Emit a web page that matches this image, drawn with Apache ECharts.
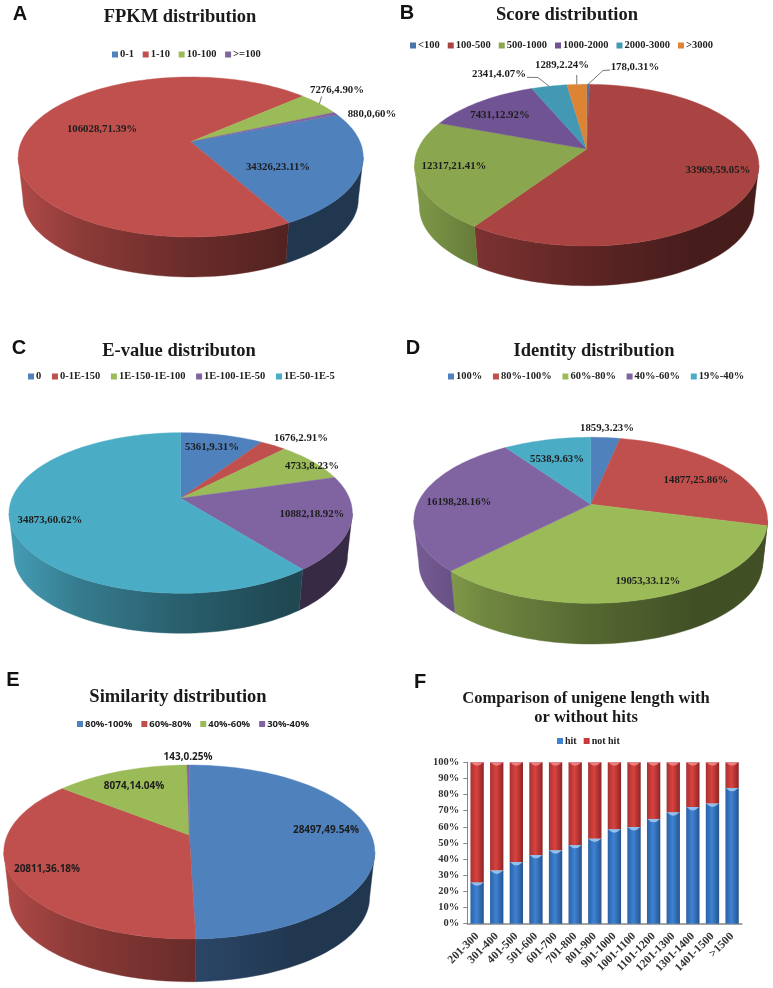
<!DOCTYPE html>
<html><head><meta charset="utf-8">
<style>html,body{margin:0;padding:0;background:#fff}#c{width:773px;height:988px}</style>
<script src="https://cdn.jsdelivr.net/npm/echarts@6/dist/echarts.min.js"></script>
</head><body><div id="c"></div>
<script>
// ---------- data ----------
const fpkmCats = ['0-1','1-10','10-100','>=100'];
const fpkmVals = [34326,106028,7276,880];
const fpkmPct  = ['23.11%','71.39%','4.90%','0,60%'];
const scoreCats = ['<100','100-500','500-1000','1000-2000','2000-3000','>3000'];
const scoreVals = [178,33969,12317,7431,2341,1289];
const scorePct  = ['0.31%','59.05%','21.41%','12.92%','4.07%','2.24%'];
const evalueCats = ['0','0-1E-150','1E-150-1E-100','1E-100-1E-50','1E-50-1E-5'];
const evalueVals = [5361,1676,4733,10882,34873];
const evaluePct  = ['9.31%','2.91%','8.23%','18.92%','60.62%'];
const identityCats = ['100%','80%-100%','60%-80%','40%-60%','19%-40%'];
const identityVals = [1859,14877,19053,16198,5538];
const identityPct  = ['3.23%','25.86%','33.12%','28.16%','9.63%'];
const similarityCats = ['80%-100%','60%-80%','40%-60%','30%-40%'];
const similarityVals = [28497,20811,8074,143];
const similarityPct  = ['49.54%','36.18%','14.04%','0.25%'];
const lengthCats = ['201-300','301-400','401-500','501-600','601-700','701-800','801-900','901-1000','1001-1100','1101-1200','1201-1300','1301-1400','1401-1500','>1500'];
const hitVals    = [25.6,32.9,38.2,42.6,45.5,48.8,52.7,58.5,59.9,64.9,69,72.3,74.4,84.1];
const notHitVals = [74.4,67.1,61.8,57.4,54.5,51.2,47.3,41.5,40.1,35.1,31,27.7,25.6,15.9];

// ---------- layout and style ----------
const SERIF = '"Liberation Serif","Times New Roman",serif';
const SANS = '"Open Sans","Noto Sans",sans-serif';
const office = ['#4f81bd','#c0504d','#9bbb59','#8064a2','#4bacc6','#f79646'];
const darker = ['#4a74aa','#a94442','#8aa64e','#6f5392','#4399b3','#dc8433'];
const panels = [
 {letter:'A',lx:20,ly:14,title:'FPKM distribution',tx:180,ty:17,cats:fpkmCats,vals:fpkmVals,pct:fpkmPct,colors:office,font:SERIF,
  apexX:190.7,apexY:141.7,left:17,right:362,top:77,bottom:237,low:277,start:68,
  legend:{x:112,y:55,gap:8.7},
  labels:[[278,167],[102,129],[337,90],[372,114]],
  leaders:{2:[[321.7,96.5]]}},
 {letter:'B',lx:407,ly:13,title:'Score distribution',tx:567,ty:15,cats:scoreCats,vals:scoreVals,pct:scorePct,colors:darker,font:SERIF,
  apexX:586.7,apexY:149,left:415,right:759.3,top:84.3,bottom:246,low:285.7,start:0,
  legend:{x:410,y:46,gap:8},
  labels:[[635,67.7],[718,170],[454,166],[500,115],[499,74.7],[562,65.7]],
  leaders:{0:[[610,70],[603,70.5]],4:[[527,77.3],[538,77.5]],5:[[576.7,75]]}},
 {letter:'C',lx:19,ly:348,title:'E-value distributon',tx:179,ty:351,cats:evalueCats,vals:evalueVals,pct:evaluePct,colors:office,font:SERIF,
  apexX:180.7,apexY:498.3,left:9,right:352.3,top:432.7,bottom:593.3,low:633.3,start:0,
  legend:{x:28,y:377,gap:10.7},
  labels:[[212,447.7],[301,438],[312,466],[312,514],[50,520]],leaders:{}},
 {letter:'D',lx:413,ly:348,title:'Identity distribution',tx:594,ty:351.7,cats:identityCats,vals:identityVals,pct:identityPct,colors:office,font:SERIF,
  apexX:590.7,apexY:504.3,left:414,right:767.7,top:437.3,bottom:603.3,low:644,start:0,
  legend:{x:448,y:377,gap:10.7},
  labels:[[607,428],[696,480],[648,581],[459,502],[557,459]],leaders:{}},
 {letter:'E',lx:13,ly:680,title:'Similarity distribution',tx:178,ty:697,cats:similarityCats,vals:similarityVals,pct:similarityPct,colors:office,font:SANS,
  apexX:189.3,apexY:835,left:4.3,right:375.3,top:765,bottom:939,low:981.7,start:0,
  legend:{x:77,y:725,gap:9},
  labels:[[326,830],[47,869],[134,786],[188,757]],leaders:{}}
];
const rimScale = 0.972;
const wallStops = [[0,.92],[.2,.72],[.5,.55],[.8,.42],[1,.42]];

function shade(hex,f){
  const n=parseInt(hex.slice(1),16);
  const c=[n>>16&255,n>>8&255,n&255].map(v=>Math.round(v*f));
  return 'rgb('+c.join(',')+')';
}
// perspective projection of the unit disc; angle is clockwise from 12 o'clock
function makeProjector(p){
  const ecy=(p.top+p.bottom)/2, rx=(p.right-p.left)/2, ry=(p.bottom-p.top)/2;
  const u=p.apexY-p.top, v=p.bottom-p.apexY, k=(v-u)/(v+u);
  const b=u*(1+k), a=rx*Math.sqrt(1-k*k);
  const ecx=(p.left+p.right)/2;
  const lowOff=p.low-ecy-ry*rimScale;
  const rim=deg=>{
    const t=deg*Math.PI/180, X=Math.sin(t), Y=-Math.cos(t), w=1-k*Y;
    return [p.apexX+a*X/w, p.apexY+b*Y/w];
  };
  const lower=pt=>[ecx+(pt[0]-ecx)*rimScale, ecy+lowOff+(pt[1]-ecy)*rimScale];
  const vis0=Math.acos(-k)*180/Math.PI;
  return {rim,lower,vis0,vis1:360-vis0};
}
function sampleArc(proj,from,to){
  const n=Math.max(2,Math.ceil((to-from)/2)), pts=[];
  for(let j=0;j<=n;j++) pts.push(proj.rim(from+(to-from)*j/n));
  return pts;
}
function sliceSeries(p,i){
  const total=p.vals.reduce((s,v)=>s+v,0);
  const before=p.vals.slice(0,i).reduce((s,v)=>s+v,0);
  const proj=makeProjector(p), color=p.colors[i];
  const x0=p.left, x1=p.right;
  return {
    type:'custom',name:p.cats[i],coordinateSystem:'none',silent:true,animation:false,
    data:[[p.vals[i]]],
    renderItem:(params,api)=>{
      const v=api.value(0);
      const a0=p.start+before/total*360, sweep=v/total*360, a1=a0+sweep;
      const kids=[];
      const wallFill=new echarts.graphic.LinearGradient(x0,0,x1,0,
        wallStops.map(s=>({offset:s[0],color:shade(color,s[1])})),true);
      [-360,0,360].forEach(m=>{
        const lo=Math.max(a0,proj.vis0+m), hi=Math.min(a1,proj.vis1+m);
        if(lo<hi){
          const edge=sampleArc(proj,lo,hi);
          kids.push({type:'polygon',z2:1,shape:{points:edge.concat(edge.map(proj.lower).reverse())},
            style:{fill:wallFill,stroke:wallFill,lineWidth:.4}});
        }
      });
      kids.push({type:'polygon',z2:5,shape:{points:[[p.apexX,p.apexY]].concat(sampleArc(proj,a0,a1))},
        style:{fill:color,stroke:color,lineWidth:.4}});
      const lab=p.labels[i];
      kids.push({type:'text',z2:20,style:{x:lab[0],y:lab[1],text:p.vals[i]+','+p.pct[i],
        font:'bold '+(p.font===SANS?10:10.8)+'px '+p.font,fill:'#1c1c1c',align:'center',verticalAlign:'middle'}});
      if(p.leaders[i]){
        const end=proj.rim(a0+sweep/2);
        kids.push({type:'polyline',z2:15,shape:{points:p.leaders[i].concat([end])},
          style:{fill:null,stroke:'#555',lineWidth:.8}});
      }
      return {type:'group',children:kids};
    }
  };
}
const series=[], titles=[], legends=[];
const letterStyle={fontFamily:'"Liberation Sans",Arial,sans-serif',fontWeight:'bold',fontSize:20,color:'#111'};
panels.forEach(p=>{
  p.vals.forEach((_,i)=>series.push(sliceSeries(p,i)));
  titles.push({text:p.letter,left:p.lx,top:p.ly,padding:0,textAlign:'center',textVerticalAlign:'middle',textStyle:letterStyle});
  titles.push({text:p.title,left:p.tx,top:p.ty,padding:0,textAlign:'center',textVerticalAlign:'middle',
    textStyle:{fontFamily:SERIF,fontWeight:'bold',fontSize:18.5,color:'#1a1a1a'}});
  legends.push({left:p.legend.x,top:p.legend.y-6,itemWidth:6,itemHeight:6,itemGap:p.legend.gap,icon:'rect',selectedMode:false,
    padding:0,orient:'horizontal',
    textStyle:{fontFamily:p.font,fontWeight:'bold',fontSize:p.font===SANS?9.5:10.5,color:'#222',padding:[0,0,0,-3]},
    data:p.cats.map((c,i)=>({name:c,itemStyle:{color:p.colors[i]}}))});
});
// panel F
titles.push({text:'F',left:420,top:682,padding:0,textAlign:'center',textVerticalAlign:'middle',textStyle:letterStyle});
titles.push({text:'Comparison of unigene length with\nor without hits',left:586,top:689,padding:0,textAlign:'center',
  textStyle:{fontFamily:SERIF,fontWeight:'bold',fontSize:16.5,lineHeight:19,color:'#1a1a1a'}});
legends.push({left:557,top:736,itemWidth:6,itemHeight:6,itemGap:7,icon:'rect',selectedMode:false,padding:0,
  textStyle:{fontFamily:SERIF,fontWeight:'bold',fontSize:10,color:'#222',padding:[0,0,0,-3]},
  data:[{name:'hit',itemStyle:{color:'#3f83d0'}},{name:'not hit',itemStyle:{color:'#c93a3a'}}]});
const barGrad=(a,b,c)=>new echarts.graphic.LinearGradient(0,0,1,0,[{offset:0,color:a},{offset:.45,color:b},{offset:1,color:c}]);
const crescent='path://M0 0 L100 0 Q50 100 0 0 Z';
const capSeries=(name,vals,color)=>({type:'scatter',name,data:vals,symbol:crescent,symbolSize:[12.5,3.4],symbolOffset:[0,1.7],
  itemStyle:{color},silent:true,animation:false,clip:false,z:4});
series.push(
 {type:'bar',name:'hit',stack:'s',data:hitVals,barWidth:'68%',animation:false,silent:true,
  itemStyle:{color:barGrad('#2a62a6','#3f82d2','#245490')}},
 {type:'bar',name:'not hit',stack:'s',data:notHitVals,barWidth:'68%',animation:false,silent:true,
  itemStyle:{color:barGrad('#a83232','#d9423f','#8c2626')}},
 capSeries('hit top',hitVals,'#a9cff2'),
 capSeries('not hit top',hitVals.map((v,i)=>v+notHitVals[i]),'#f29090')
);
const axisText={fontFamily:SERIF,fontWeight:'bold',color:'#333'};
const chart=echarts.init(document.getElementById('c'),null,{renderer:'canvas'});
chart.setOption({
  backgroundColor:'#fff',animation:false,title:titles,legend:legends,tooltip:{show:false},
  grid:{left:467.3,top:762.3,width:274.6,height:161.4},
  xAxis:{type:'category',data:lengthCats,axisLabel:Object.assign({interval:0,rotate:45,margin:11,fontSize:11.5},axisText),
    axisLine:{lineStyle:{color:'#868686',width:1.5}},axisTick:{show:false}},
  yAxis:{type:'value',min:0,max:100,interval:10,axisLabel:Object.assign({formatter:'{value}%',margin:8,fontSize:10.5},axisText),
    axisLine:{show:true,lineStyle:{color:'#868686',width:1}},axisTick:{show:true,length:4,lineStyle:{color:'#868686'}},splitLine:{show:false}},
  series
});
</script></body></html>
